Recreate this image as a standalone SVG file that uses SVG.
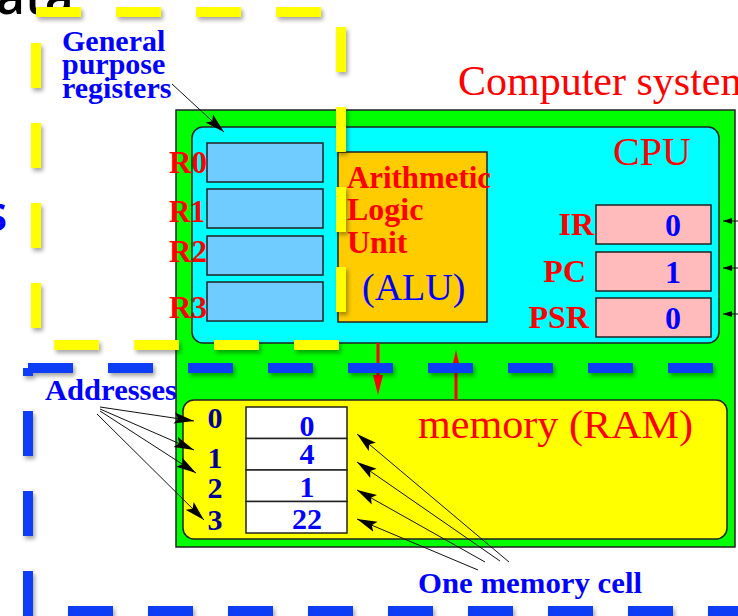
<svg xmlns="http://www.w3.org/2000/svg" width="738" height="616" viewBox="0 0 738 616">
<style>
.serif{font-family:"Liberation Serif","Times New Roman",serif}
.b{font-weight:bold}
.red{fill:#FF0000}
.blue{fill:#0000FF}
.navy{fill:#000099}
.box{stroke:#222;stroke-width:1.5}
.reg{fill:#70CCFF;stroke:#222;stroke-width:1.5}
.pink{fill:#FFBBBB;stroke:#222;stroke-width:1.5}
.cell{fill:#FFFFFF;stroke:#222;stroke-width:1.5}
.thin{stroke:#111;stroke-width:1;fill:none}
.ydash{fill:none;stroke:#FFFF00;stroke-width:10;stroke-dasharray:45 35}
.bdash{fill:none;stroke:#0A3CF5;stroke-width:10;stroke-dasharray:45 35}
</style>
<defs>
<filter id="sh" x="-10%" y="-10%" width="120%" height="120%">
<feDropShadow dx="2" dy="3" stdDeviation="2" flood-color="#000" flood-opacity="0.35"/>
</filter>
<marker id="ah" viewBox="0 0 20 12" refX="20" refY="6" markerWidth="20" markerHeight="12" markerUnits="userSpaceOnUse" orient="auto">
<path d="M0,0.5 L20,6 L0,11.5 L4,6 z" fill="#000"/>
</marker>
<marker id="ahs" viewBox="0 0 9 6" refX="9" refY="3" markerWidth="9" markerHeight="6" markerUnits="userSpaceOnUse" orient="auto">
<path d="M0,0 L9,3 L0,6 z" fill="#000"/>
</marker>
</defs>

<rect width="738" height="616" fill="#FFFFFF"/>

<g id="slide-fragments" font-family="'Open Sans','Liberation Sans',Arial,sans-serif" font-weight="600">
<text x="-4" y="14" font-size="50" fill="#000">ata</text>
<text x="-16" y="231" font-size="48" fill="#0000FF">s</text>
</g>

<g id="computer-system">
<rect x="176" y="110" width="559" height="437" fill="#00FF00" stroke="#222" stroke-width="1.5"/>
<text class="serif red" x="458" y="95" font-size="42">Computer system</text>
</g>

<g id="cpu">
<rect x="192" y="127" width="527" height="216" rx="11" fill="#00FFFF" class="box"/>
<text class="serif red" x="613" y="165" font-size="40">CPU</text>
</g>

<g id="registers">
<rect class="reg" x="207" y="143" width="116" height="39"/>
<rect class="reg" x="207" y="189" width="116" height="39"/>
<rect class="reg" x="207" y="236" width="116" height="39"/>
<rect class="reg" x="207" y="282" width="116" height="39"/>
<g class="serif b red" font-size="32">
<text x="169" y="173" textLength="38" lengthAdjust="spacingAndGlyphs">R0</text>
<text x="169" y="222" textLength="36" lengthAdjust="spacingAndGlyphs">R1</text>
<text x="169" y="262" textLength="38" lengthAdjust="spacingAndGlyphs">R2</text>
<text x="169" y="318" textLength="38" lengthAdjust="spacingAndGlyphs">R3</text>
</g>
</g>

<g id="alu">
<rect x="338" y="152" width="149" height="170" fill="#FFCC00" class="box"/>
<g class="serif b red" font-size="32">
<text x="347" y="188" textLength="144" lengthAdjust="spacingAndGlyphs">Arithmetic</text>
<text x="347" y="220">Logic</text>
<text x="347" y="253">Unit</text>
</g>
<text class="serif blue" x="362" y="300" font-size="38">(ALU)</text>
</g>

<g id="special-registers">
<rect class="pink" x="596" y="205" width="115" height="39"/>
<rect class="pink" x="596" y="252" width="115" height="39"/>
<rect class="pink" x="596" y="298" width="115" height="39"/>
<g class="serif b red" font-size="32" text-anchor="end">
<text x="594" y="235">IR</text>
<text x="586" y="282">PC</text>
<text x="589" y="328">PSR</text>
</g>
<g class="serif b blue" font-size="32" text-anchor="middle">
<text x="673" y="236">0</text>
<text x="673" y="283">1</text>
<text x="673" y="329">0</text>
</g>
</g>

<g id="memory">
<rect x="183" y="400" width="544" height="139" rx="11" fill="#FFFF00" class="box"/>
<text class="serif red" x="418" y="438" font-size="40" textLength="275" lengthAdjust="spacingAndGlyphs">memory (RAM)</text>
<rect class="cell" x="246" y="407" width="101" height="31.5"/>
<rect class="cell" x="246" y="438.5" width="101" height="31.5"/>
<rect class="cell" x="246" y="470" width="101" height="31.5"/>
<rect class="cell" x="246" y="501.5" width="101" height="31.5"/>
<g class="serif b blue" font-size="30" text-anchor="middle">
<text x="307" y="436">0</text>
<text x="307" y="464">4</text>
<text x="307" y="497">1</text>
<text x="307" y="529">22</text>
</g>
<g class="serif b navy" font-size="30" text-anchor="middle">
<text x="215" y="428">0</text>
<text x="215" y="468">1</text>
<text x="215" y="498">2</text>
<text x="215" y="530">3</text>
</g>
</g>

<g id="labels" class="serif b blue" font-size="30">
<text x="62" y="51">General</text>
<text x="62" y="74">purpose</text>
<text x="62" y="98">registers</text>
<text x="45" y="400" textLength="132" lengthAdjust="spacingAndGlyphs">Addresses</text>
<text x="418" y="593" textLength="224" lengthAdjust="spacingAndGlyphs">One memory cell</text>
</g>

<g id="connectors">
<path class="thin" d="M172,84 L224,132" marker-end="url(#ah)"/>
<path class="thin" d="M100,407 L194,421" marker-end="url(#ah)"/>
<path class="thin" d="M100,409 L194,450" marker-end="url(#ah)"/>
<path class="thin" d="M100,411 L196,473" marker-end="url(#ah)"/>
<path class="thin" d="M97,414 L204,520" marker-end="url(#ah)"/>
<path class="thin" d="M509,562 L357,434" marker-end="url(#ah)"/>
<path class="thin" d="M500,561 L357,462" marker-end="url(#ah)"/>
<path class="thin" d="M485,562 L357,490" marker-end="url(#ah)"/>
<path class="thin" d="M478,570 L357,519" marker-end="url(#ah)"/>
<path class="thin" d="M738,221 L723,221" marker-end="url(#ahs)"/>
<path class="thin" d="M738,268 L723,268" marker-end="url(#ahs)"/>
<path class="thin" d="M738,314 L723,314" marker-end="url(#ahs)"/>
<g fill="#FF0000">
<rect x="376.5" y="343" width="3" height="33"/>
<polygon points="373,375 383,375 378,395"/>
<rect x="454.5" y="370" width="3" height="30"/>
<polygon points="451,372 461,372 456,350"/>
</g>
</g>

<g id="blue-dashed-frame" filter="url(#sh)">
<path class="bdash" d="M28,368 H800"/>
<path class="bdash" d="M28,616 V368"/>
<path class="bdash" d="M28,611 H800" stroke-dashoffset="-40"/>
</g>

<g id="yellow-dashed-frame" filter="url(#sh)">
<rect class="ydash" x="36" y="12" width="305" height="333"/>
</g>
</svg>
